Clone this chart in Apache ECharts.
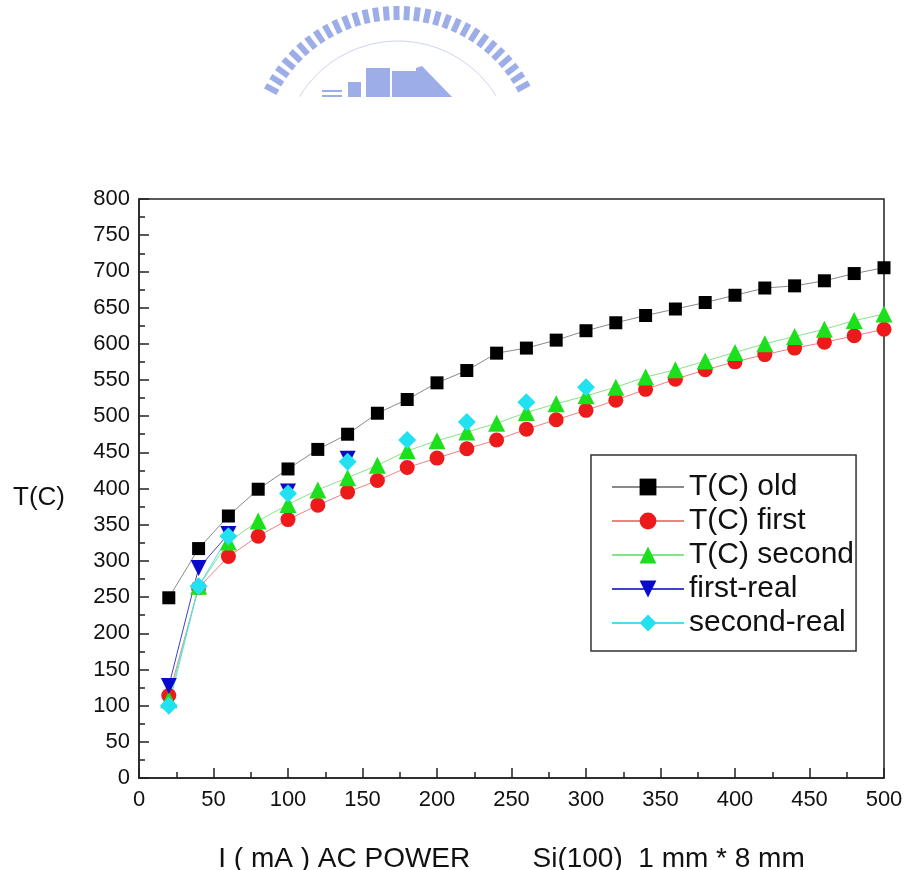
<!DOCTYPE html>
<html>
<head>
<meta charset="utf-8">
<script src="https://cdn.jsdelivr.net/npm/echarts@6/dist/echarts.min.js"></script>
<style>
  html, body { margin: 0; padding: 0; background: #fff; }
  #main { width: 907px; height: 870px; }
</style>
</head>
<body>
<div id="main"></div>
<script>
// current, mA
var xVals = [20, 40, 60, 80, 100, 120, 140, 160, 180, 200, 220, 240, 260,
             280, 300, 320, 340, 360, 380, 400, 420, 440, 460, 480, 500];
var tOld = [249, 317, 362, 399, 427, 454, 475, 504, 523, 546, 563, 587, 594,
            605, 618, 629, 639, 648, 657, 667, 677, 680, 687, 697, 705];
var tFirst = [114, 263, 306, 334, 357, 377, 395, 411, 429, 442, 455, 467, 482,
              495, 508, 522, 537, 551, 564, 575, 585, 594, 602, 611, 620];
var tSecond = [108, 265, 326, 355, 378, 398, 415, 432, 452, 466, 478, 490, 505,
               517, 528, 540, 554, 564, 576, 588, 600, 610, 620, 632, 641];
// measured points, null where nothing was measured
var firstReal = [127, 290, 337, null, 396, null, 441];
var secondReal = [100, 265, 334, null, 393, null, 437, null, 467, null, 492, null, 519, null, 540];

var seriesNames = ['T(C) old', 'T(C) first', 'T(C) second', 'first-real', 'second-real'];

function pairs(ys) {
  return ys.map(function (y, i) { return [xVals[i], y == null ? '-' : y]; });
}

var font = 'Liberation Sans, Arial, sans-serif';
var logoColor = '#9cade8';

// watermark logo (ticks on an arc + blocks), cut off at the bottom like the scan
var logo = [];
var cx = 398, cy = 156;
for (var a = 25; a <= 155; a += 4.1) {
  var r = a * Math.PI / 180;
  var px = cx + 143 * Math.cos(r), py = cy - 143 * Math.sin(r);
  if (py > 94) continue;
  logo.push({
    type: 'rect', x: px, y: py, originX: 0, originY: 0,
    rotation: r - Math.PI / 2,
    shape: { x: -3, y: -7, width: 6, height: 14 },
    style: { fill: logoColor }
  });
}
logo.push({ type: 'arc', shape: { cx: cx, cy: cy, r: 115, startAngle: -2.6, endAngle: -0.55 },
            style: { stroke: '#cbd4f2', lineWidth: 1, fill: null } });
logo.push({ type: 'rect', shape: { x: 322, y: 90, width: 20, height: 2 }, style: { fill: logoColor } });
logo.push({ type: 'rect', shape: { x: 322, y: 95, width: 20, height: 2 }, style: { fill: logoColor } });
logo.push({ type: 'rect', shape: { x: 348, y: 82, width: 13, height: 15 }, style: { fill: logoColor } });
logo.push({ type: 'rect', shape: { x: 366, y: 68, width: 24, height: 29 }, style: { fill: logoColor } });
logo.push({ type: 'rect', shape: { x: 392, y: 71, width: 24, height: 26 }, style: { fill: logoColor } });
logo.push({ type: 'polygon', shape: { points: [[416, 97], [416, 68], [422, 66], [452, 97]] }, style: { fill: logoColor } });

var chart = echarts.init(document.getElementById('main'));
var option = {
  animation: false,
  backgroundColor: '#fff',
  graphic: logo,
  grid: {
    left: 139, right: 23, top: 199, bottom: 92,
    outerBoundsMode: 'none', containLabel: false,
    show: true, borderColor: '#222', borderWidth: 1.5
  },
  legend: {
    data: seriesNames,
    orient: 'vertical',
    left: 591, top: 455,
    padding: [17, 2, 13, 20],
    itemWidth: 72, itemHeight: 21, itemGap: 4,
    borderColor: '#333', borderWidth: 1.5,
    textStyle: { fontFamily: font, fontSize: 30, lineHeight: 30, color: '#111' }
  },
  xAxis: {
    type: 'value', min: 0, max: 500, interval: 50,
    name: 'I ( mA ) AC POWER        Si(100)  1 mm * 8 mm',
    nameLocation: 'middle', nameGap: 67,
    nameTextStyle: { fontFamily: font, fontSize: 28, color: '#111' },
    axisLine: { lineStyle: { color: '#222', width: 1.5 } },
    axisTick: { inside: true, length: 10, lineStyle: { color: '#222', width: 1.5 } },
    minorTick: { show: true, splitNumber: 2, length: 6, lineStyle: { color: '#222', width: 1.5 } },
    axisLabel: { fontFamily: font, fontSize: 22, color: '#111', margin: 11 },
    splitLine: { show: false }
  },
  yAxis: {
    type: 'value', min: 0, max: 800, interval: 50,
    name: 'T(C)',
    nameLocation: 'middle', nameRotate: 0, nameGap: 74,
    nameTextStyle: { fontFamily: font, fontSize: 26, color: '#111', verticalAlign: 'top', lineHeight: 19 },
    axisLine: { lineStyle: { color: '#222', width: 1.5 } },
    axisTick: { inside: true, length: 10, lineStyle: { color: '#222', width: 1.5 } },
    minorTick: { show: true, splitNumber: 2, length: 6, lineStyle: { color: '#222', width: 1.5 } },
    axisLabel: { fontFamily: font, fontSize: 22, color: '#111', margin: 9 },
    splitLine: { show: false }
  },
  series: [
    {
      name: seriesNames[0], type: 'line', data: pairs(tOld),
      symbol: 'rect', symbolSize: 13,
      itemStyle: { color: '#000' },
      lineStyle: { color: '#8a8a8a', width: 1 }
    },
    {
      name: seriesNames[1], type: 'line', data: pairs(tFirst),
      symbol: 'circle', symbolSize: 15,
      itemStyle: { color: '#ec1a1a' },
      lineStyle: { color: '#f08080', width: 1 }
    },
    {
      name: seriesNames[2], type: 'line', data: pairs(tSecond),
      symbol: 'triangle', symbolSize: 17,
      itemStyle: { color: '#1be01b' },
      lineStyle: { color: '#85e385', width: 1 }
    },
    {
      name: seriesNames[3], type: 'line', data: pairs(firstReal),
      symbol: 'triangle', symbolRotate: 180, symbolSize: 16,
      itemStyle: { color: '#0a0acc' },
      lineStyle: { color: '#4040d0', width: 1 }
    },
    {
      name: seriesNames[4], type: 'line', data: pairs(secondReal),
      symbol: 'diamond', symbolSize: 18,
      itemStyle: { color: '#22e2f2' },
      lineStyle: { color: '#50dcf0', width: 1 }
    }
  ]
};
chart.setOption(option);
</script>
</body>
</html>
